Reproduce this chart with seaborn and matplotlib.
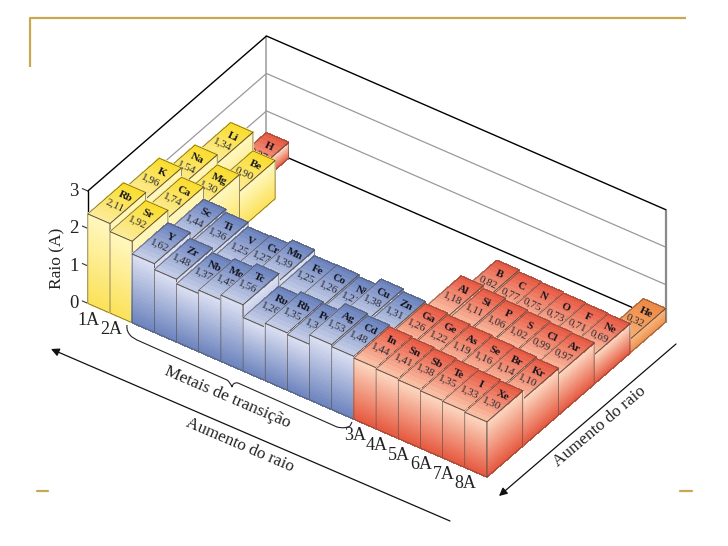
import matplotlib
matplotlib.use("Agg")
import matplotlib.pyplot as plt
import seaborn as sns
from matplotlib.path import Path
from matplotlib.patches import PathPatch
from mpl_toolkits.mplot3d import proj3d
from mpl_toolkits.mplot3d.art3d import Poly3DCollection

# columns start at 0 = 1A, rows start at 0 = front row of the table
symbols_p5 = ["Rb", "Sr", "Y", "Zr", "Nb", "Mo", "Tc", "Ru", "Rh", "Pd", "Ag", "Cd", "In", "Sn", "Sb", "Te", "I", "Xe"]
radii_p5 = [2.11, 1.92, 1.62, 1.48, 1.37, 1.45, 1.56, 1.26, 1.35, 1.31, 1.53, 1.48, 1.44, 1.41, 1.38, 1.35, 1.33, 1.30]
symbols_p4 = ["K", "Ca", "Sc", "Ti", "V", "Cr", "Mn", "Fe", "Co", "Ni", "Cu", "Zn", "Ga", "Ge", "As", "Se", "Br", "Kr"]
radii_p4 = [1.96, 1.74, 1.44, 1.36, 1.25, 1.27, 1.39, 1.25, 1.26, 1.21, 1.38, 1.31, 1.26, 1.22, 1.19, 1.16, 1.14, 1.10]
symbols_p3 = ["Na", "Mg", "Al", "Si", "P", "S", "Cl", "Ar"]
radii_p3 = [1.54, 1.30, 1.18, 1.11, 1.06, 1.02, 0.99, 0.97]
symbols_p2 = ["Li", "Be", "B", "C", "N", "O", "F", "Ne"]
radii_p2 = [1.34, 0.90, 0.82, 0.77, 0.75, 0.73, 0.71, 0.69]
symbols_p1 = ["H", "He"]
radii_p1 = [0.37, 0.32]

group_labels = ["1A", "2A", "3A", "4A", "5A", "6A", "7A", "8A"]
group_columns = [0, 1, 12, 13, 14, 15, 16, 17]
z_ticks = [0, 1, 2, 3]

N_COLS = 18
N_ROWS = 5
# the printed axis is shorter than the bars: tick 3 sits at about 2.65 bar units
TICK_SCALE = 0.8835

# (top back, top front, side top, side bottom)
colors = {
    "yellow": ("#FBDD2E", "#FBEB95", "#FFF6BC", "#FBE25A"),
    "blue": ("#6A82BD", "#C2CBE6", "#D8DDF0", "#6C83BE"),
    "red": ("#E85A44", "#F9BDA2", "#FBD3BC", "#E6583F"),
    "orange": ("#EE8A45", "#F6AE72", "#F7B37A", "#EE8F4C"),
}


def color_key(sym, col):
    if sym == "He":
        return "orange"
    if sym == "H" or col >= 12:
        return "red"
    if col < 2:
        return "yellow"
    return "blue"


def build_bars():
    bars = []
    for col, (s, r) in enumerate(zip(symbols_p5, radii_p5)):
        bars.append((col, 0, s, r))
    for col, (s, r) in enumerate(zip(symbols_p4, radii_p4)):
        bars.append((col, 1, s, r))
    for rows, (syms, vals) in [(2, (symbols_p3, radii_p3)), (3, (symbols_p2, radii_p2))]:
        for i, (s, r) in enumerate(zip(syms, vals)):
            col = i if i < 2 else i + 10
            bars.append((col, rows, s, r))
    bars.append((0, 4, symbols_p1[0], radii_p1[0]))
    bars.append((17, 4, symbols_p1[1], radii_p1[1]))
    # painter order for a camera on the +x, -y side
    return sorted(bars, key=lambda b: (b[0], -b[1]))


def put_text(ax, x, y, z, s, **kwargs):
    # project once and place as 2D text, so the position is a plain screen one
    x2, y2, _ = proj3d.proj_transform(x, y, z, ax.get_proj())
    ax.text2D(x2, y2, s, transform=ax.transData, ha="center", va="center", **kwargs)


def draw_bar(ax, col, row, sym, val, order):
    top_back, top_front, side_top, side_bottom = colors[color_key(sym, col)]
    x0, x1, y0, y1 = col, col + 1, row, row + 1
    n = 20
    side_cols = sns.blend_palette([side_top, side_bottom], n_colors=n)
    polys, fcs = [], []
    for i in range(n):
        z1 = val * (1 - i / n)
        z0 = val * (1 - (i + 1) / n)
        polys.append([(x0, y0, z0), (x1, y0, z0), (x1, y0, z1), (x0, y0, z1)])
        fcs.append(side_cols[i])
        polys.append([(x1, y0, z0), (x1, y1, z0), (x1, y1, z1), (x1, y0, z1)])
        fcs.append(side_cols[i])
    sides = Poly3DCollection(polys, facecolors=fcs, edgecolors=fcs, linewidths=0.5, antialiaseds=False)
    sides.set_zorder(order)
    ax.add_collection3d(sides)

    m = 10
    top_cols = sns.blend_palette([top_front, top_back], n_colors=m)
    polys = []
    for i in range(m):
        ya = y0 + i / m
        yb = y0 + (i + 1) / m
        polys.append([(x0, ya, val), (x1, ya, val), (x1, yb, val), (x0, yb, val)])
    top = Poly3DCollection(polys, facecolors=top_cols, edgecolors=top_cols, linewidths=0.5, antialiaseds=False)
    top.set_zorder(order + 0.1)
    ax.add_collection3d(top)

    outline = [
        [(x0, y0, 0), (x1, y0, 0), (x1, y0, val), (x0, y0, val)],
        [(x1, y0, 0), (x1, y1, 0), (x1, y1, val), (x1, y0, val)],
        [(x0, y0, val), (x1, y0, val), (x1, y1, val), (x0, y1, val)],
    ]
    edges = Poly3DCollection(outline, facecolors=(0, 0, 0, 0), edgecolors="#5a5048", linewidths=0.45)
    edges.set_zorder(order + 0.2)
    ax.add_collection3d(edges)

    put_text(ax, col + 0.55, row + 0.72, val, sym, fontsize=8, fontweight="bold", rotation=-25,
             color="#15151f", zorder=order + 0.3)
    put_text(ax, col + 0.5, row + 0.45, val, f"{val:.2f}".replace(".", ","), fontsize=8, rotation=-25,
             color="#2a2a33", zorder=order + 0.3)


def draw_frame(ax):
    top = z_ticks[-1] * TICK_SCALE
    for t in z_ticks[1:-1]:
        z = t * TICK_SCALE
        ax.plot([0, 0, N_COLS], [0, N_ROWS, N_ROWS], [z, z, z], color="#9a9a9a", lw=0.9, zorder=1)
    ax.plot([0, N_COLS], [N_ROWS, N_ROWS], [0, 0], color="black", lw=1.0, zorder=1)
    ax.plot([0, 0], [N_ROWS, N_ROWS], [0, top], color="#9a9a9a", lw=1.1, zorder=1)
    ax.plot([N_COLS, N_COLS], [N_ROWS, N_ROWS], [0, top], color="#8a8a8a", lw=1.6, zorder=1)
    ax.plot([0, 0, N_COLS], [0, N_ROWS, N_ROWS], [top, top, top], color="black", lw=1.0, zorder=2)
    ax.plot([0, 0], [0, 0], [0, top], color="black", lw=1.0, zorder=2)
    for t in z_ticks:
        z = t * TICK_SCALE
        ax.plot([-0.25, 0], [0, 0], [z, z], color="#333333", lw=0.8, zorder=2)
        put_text(ax, -0.4, -0.14, z, str(t), fontsize=13.5, color="#222222")
    for lab, col in zip(group_labels, group_columns):
        put_text(ax, col + 0.6, -0.35, 0, lab, fontsize=13, color="#222222")


def draw_overlay(fig):
    ov = fig.add_axes([0, 0, 1, 1], zorder=5)
    ov.set_xlim(0, 728)
    ov.set_ylim(546, 0)
    ov.axis("off")
    ov.patch.set_alpha(0)

    gold = "#C8A94F"
    ov.plot([30, 30, 686], [67, 18, 18], color=gold, lw=1.6, solid_capstyle="butt")
    ov.plot([37, 48], [491, 491], color=gold, lw=1.6)
    ov.plot([680, 692], [491, 491], color=gold, lw=1.6)

    ov.annotate("", xy=(51, 349), xytext=(450, 521),
                arrowprops=dict(arrowstyle="-|>", color="#111111", lw=0.9, shrinkA=0, shrinkB=0))
    ov.annotate("", xy=(499, 496), xytext=(676, 344),
                arrowprops=dict(arrowstyle="-|>", color="#111111", lw=0.9, shrinkA=0, shrinkB=0))

    brace_verts = [(127, 325), (126, 332), (132, 337), (137, 340),
                   (227, 380), (230, 382), (232, 387), (233, 382), (238, 383),
                   (337, 427), (345, 429), (350, 426), (352, 422)]
    brace_codes = [Path.MOVETO, Path.CURVE3, Path.CURVE3, Path.LINETO,
                   Path.LINETO, Path.CURVE3, Path.CURVE3, Path.CURVE3, Path.CURVE3,
                   Path.LINETO, Path.CURVE3, Path.CURVE3, Path.LINETO]
    ov.add_patch(PathPatch(Path(brace_verts, brace_codes), fc="none", ec="#222222", lw=0.8))

    ov.text(57, 258, "Raio (A)", fontsize=12.5, rotation=90, ha="center", va="center", color="#222222")
    ov.text(227, 397, "Metais de transição", fontsize=12.5, rotation=-23.2, ha="center", va="center",
            rotation_mode="anchor", color="#222222")
    ov.text(240, 445, "Aumento do raio", fontsize=12.3, rotation=-23.2, ha="center", va="center",
            rotation_mode="anchor", color="#222222")
    ov.text(600, 427, "Aumento do raio", fontsize=12.3, rotation=40.2, ha="center", va="center",
            rotation_mode="anchor", color="#222222")


def main():
    sns.set_theme(style="white")
    plt.rcParams["font.family"] = ["Liberation Serif", "DejaVu Serif"]

    fig = plt.figure(figsize=(7.28, 5.46), dpi=100, facecolor="white")
    ax = fig.add_axes([68.6 / 728, -18.6 / 546, 600 / 728, 600 / 546], projection="3d")
    ax.set_proj_type("ortho")
    ax.view_init(elev=37.9, azim=-54.7)
    ax.set_box_aspect((489.6, 309.5, 142.6), zoom=0.964)
    ax.set_axis_off()
    ax.patch.set_alpha(0)
    ax.computed_zorder = False

    ax.set_xlim(0, N_COLS)
    ax.set_ylim(0, N_ROWS)
    ax.set_zlim(0, z_ticks[-1] * TICK_SCALE)

    draw_frame(ax)
    for i, (col, row, sym, val) in enumerate(build_bars()):
        draw_bar(ax, col, row, sym, val, 10 + i)

    draw_overlay(fig)
    fig.savefig("out.png", dpi=100)
    plt.close(fig)


if __name__ == "__main__":
    main()
